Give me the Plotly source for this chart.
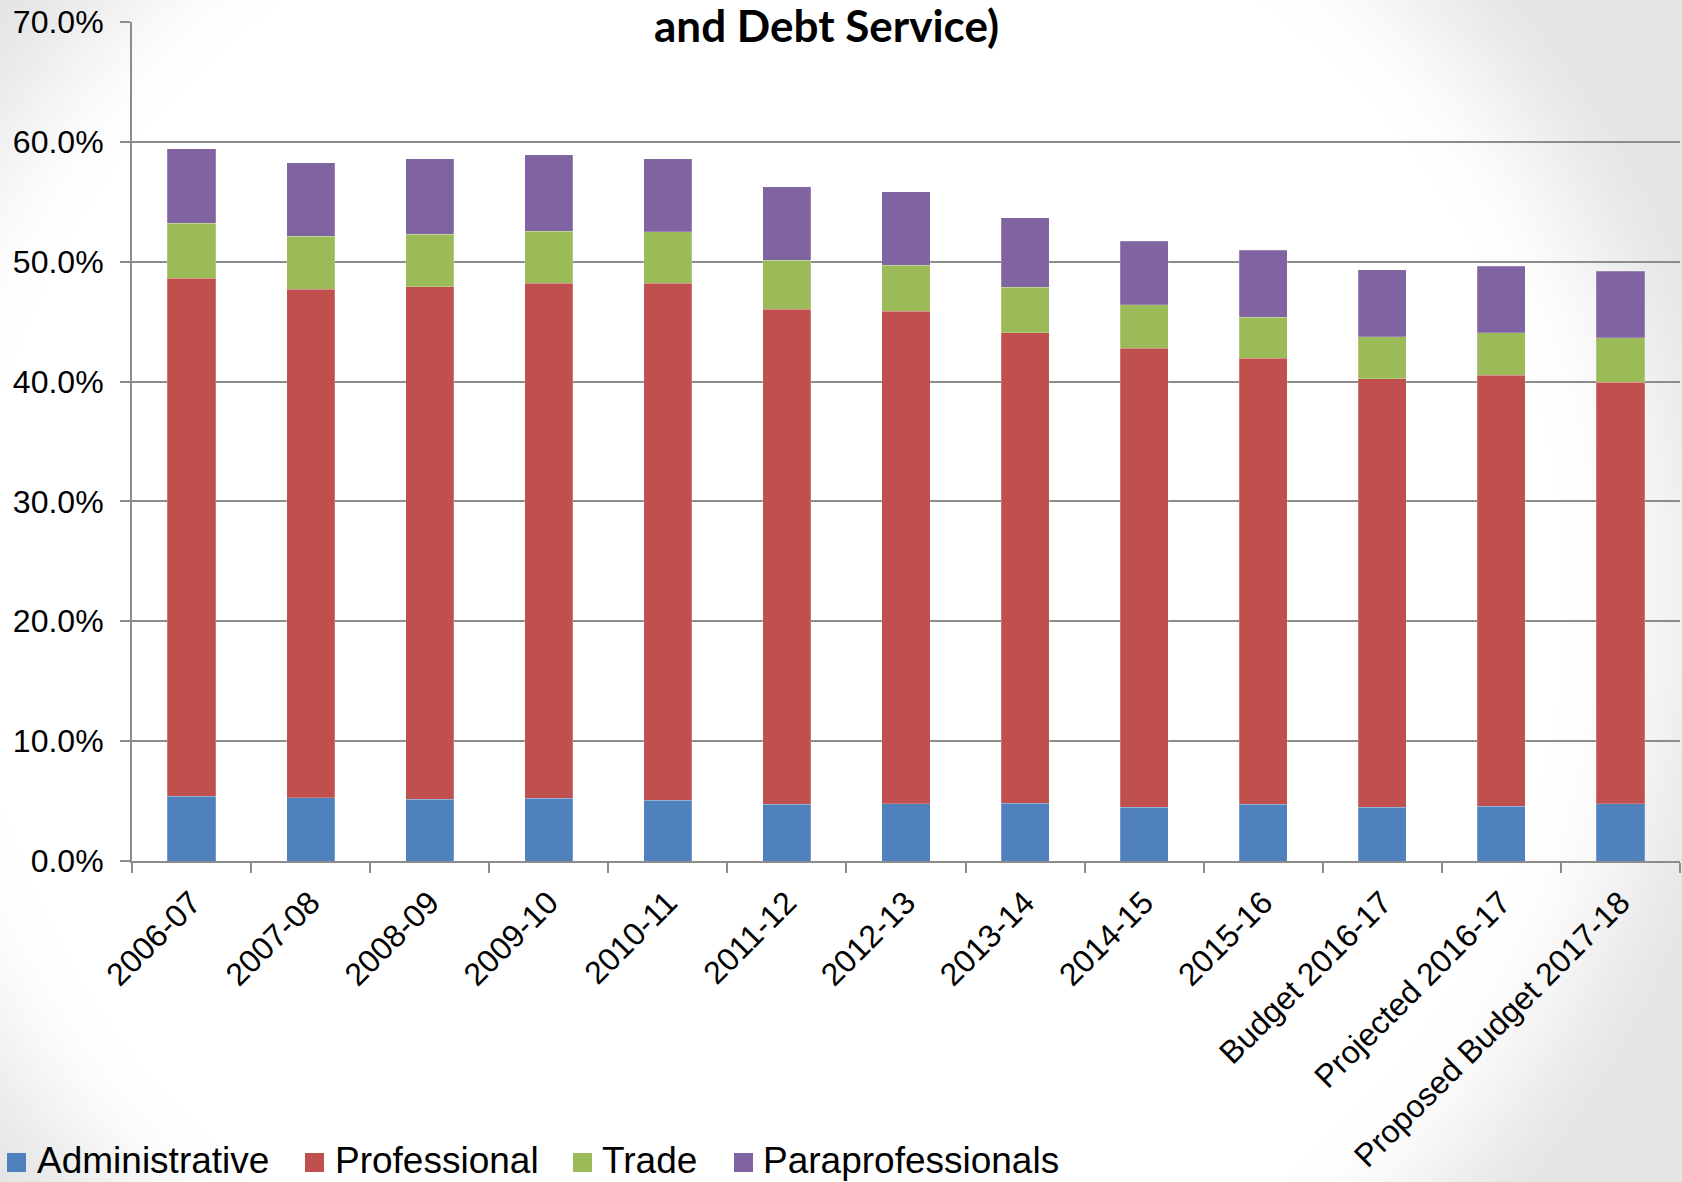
import base64
import struct
import zlib

import numpy as np
import plotly.graph_objects as go

# ---- data (percent of total expenditures) ----
years = ["2006-07", "2007-08", "2008-09", "2009-10", "2010-11", "2011-12",
         "2012-13", "2013-14", "2014-15", "2015-16", "Budget 2016-17",
         "Projected 2016-17", "Proposed Budget 2017-18"]
administrative = [5.40, 5.26, 5.15, 5.24, 5.07, 4.74, 4.76, 4.82, 4.48, 4.74, 4.48, 4.57, 4.76]
professional = [43.21, 42.46, 42.77, 42.98, 43.15, 41.28, 41.09, 39.27, 38.28, 37.21, 35.74, 35.96, 35.18]
trade = [4.58, 4.39, 4.36, 4.34, 4.28, 4.12, 3.87, 3.79, 3.65, 3.40, 3.54, 3.56, 3.71]
paraprofessionals = [6.25, 6.14, 6.33, 6.36, 6.11, 6.10, 6.13, 5.80, 5.29, 5.60, 5.57, 5.55, 5.54]

y_ticks = [0, 10, 20, 30, 40, 50, 60, 70]

series_names = ["Administrative", "Professional", "Trade", "Paraprofessionals"]
series_values = [administrative, professional, trade, paraprofessionals]
series_colors = ["#4F81BD", "#C0504D", "#9BBB59", "#8064A2"]

W, H = 1682, 1182
M_L, M_R, M_T, M_B = 132, 2, 22, 321
PLOT_W = W - M_L - M_R
PLOT_H = H - M_T - M_B


def px_x(x):
    """Figure pixel column -> paper x."""
    return (x - M_L) / PLOT_W


def px_y(y):
    """Figure pixel row (from top) -> paper y."""
    return 1 - (y - M_T) / PLOT_H


def gray_png(arr):
    """Encode a 2-D uint8 array as a grayscale PNG data URI."""
    h, w = arr.shape
    raw = b"".join(b"\x00" + row.tobytes() for row in arr)

    def chunk(tag, data):
        c = struct.pack(">I", len(data)) + tag + data
        return c + struct.pack(">I", zlib.crc32(tag + data) & 0xFFFFFFFF)

    png = (b"\x89PNG\r\n\x1a\n"
           + chunk(b"IHDR", struct.pack(">IIBBBBB", w, h, 8, 0, 0, 0, 0))
           + chunk(b"IDAT", zlib.compress(raw, 9))
           + chunk(b"IEND", b""))
    return "data:image/png;base64," + base64.b64encode(png).decode()


# soft radial shading of the slide background
step = 4
gx, gy = np.meshgrid(np.arange(0, W, step) + step / 2, np.arange(0, H, step) + step / 2)
dist = np.hypot(gx - 770, (gy - 600) * 1.05)
t = np.clip((dist - 800) / 210, 0, 1)
t = t * t * (3 - 2 * t)
shade = (255 - 26 * t).astype(np.uint8)
bg_uri = gray_png(shade)

fig = go.Figure()
for name, vals, color in zip(series_names, series_values, series_colors):
    fig.add_trace(go.Bar(
        x=years, y=vals, name=name, showlegend=False,
        marker=dict(color=color, line=dict(color="rgba(255,255,255,0.35)", width=0.6)),
    ))

# legend row along the bottom edge: swatch left edge, text left edge
legend_swatch_x = [7, 305, 573, 734]
legend_text_x = [35, 333, 600, 761]
legend_top, legend_bottom, legend_mid = 1153, 1172, 1160

shapes = []
annotations = []
for name, color, sx, tx in zip(series_names, series_colors, legend_swatch_x, legend_text_x):
    shapes.append(dict(
        type="rect", xref="paper", yref="paper",
        x0=px_x(sx), x1=px_x(sx + 19), y0=px_y(legend_bottom), y1=px_y(legend_top),
        fillcolor=color, line=dict(width=0),
    ))
    annotations.append(dict(
        text=name, xref="paper", yref="paper", x=px_x(tx), y=px_y(legend_mid),
        xanchor="left", yanchor="middle", showarrow=False,
        font=dict(size=37, color="black"),
    ))

annotations.append(dict(
    text="<b>and Debt Service)</b>", xref="paper", yref="paper",
    x=px_x(826), y=px_y(25),
    xanchor="center", yanchor="middle", showarrow=False,
    font=dict(family="Lato, sans-serif", size=44, color="black"),
))

fig.update_layout(
    width=W, height=H,
    barmode="stack", bargap=0.596,
    margin=dict(l=M_L, r=M_R, t=M_T, b=M_B, pad=0),
    paper_bgcolor="white", plot_bgcolor="rgba(0,0,0,0)",
    font=dict(family="Liberation Sans, Arial, sans-serif", color="black"),
    showlegend=False,
    images=[dict(
        source=bg_uri, xref="paper", yref="paper",
        x=px_x(0), y=px_y(0),
        sizex=W / PLOT_W, sizey=H / PLOT_H,
        xanchor="left", yanchor="top", sizing="stretch", layer="below",
    )],
    shapes=shapes,
    annotations=annotations,
)

fig.update_yaxes(
    range=[0, 70], tickvals=y_ticks, ticktext=[f"{v:.1f}%" for v in y_ticks],
    showgrid=True, gridcolor="#8C8C8C", gridwidth=2,
    showline=True, linecolor="#8C8C8C", linewidth=2,
    ticks="outside", ticklen=10, tickcolor="#8C8C8C", tickwidth=2,
    tickfont=dict(size=32), ticklabelstandoff=10, zeroline=False,
)
fig.update_xaxes(
    type="category", tickangle=-45, tickson="boundaries",
    showline=True, linecolor="#8C8C8C", linewidth=2,
    ticks="outside", ticklen=10, tickcolor="#8C8C8C", tickwidth=2,
    tickfont=dict(size=32), ticklabelstandoff=8,
    showgrid=False, range=[-0.5, 12.5],
)

fig.write_html("out.html")
